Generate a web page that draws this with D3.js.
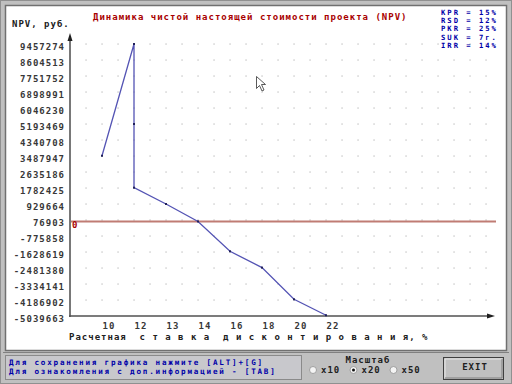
<!DOCTYPE html>
<html>
<head>
<meta charset="utf-8">
<script src="https://cdn.jsdelivr.net/npm/d3@7"></script>
<style>
  body { margin: 0; background: #c0c0c0; }
  svg text { font-family: "DejaVu Sans Mono", monospace; font-weight: bold; font-size: 9px; letter-spacing: 1px; }
  svg text.small { font-size: 7.2px; letter-spacing: 2px; }
  svg text.status { font-size: 7.6px; letter-spacing: 1.8px; }
</style>
</head>
<body>
<div id="chart"></div>
<script>
// rates on the x axis (categories)
const rates = ["10", "12", "13", "14", "16", "18", "20", "22"];
// the polyline: category index of each vertex and its NPV
const pathIdx = [0, 1, 1, 1, 2, 3, 4, 5, 6, 7];
const npv = [3500000, 9457274, 5193469, 1800000, 929664, 0, -1590000, -2460000, -4150000, -5000000];
// y tick labels as printed
const yTicks = [9457274, 8604513, 7751752, 6898991, 6046230, 5193469, 4340708, 3487947,
  2635186, 1782425, 929664, 76903, -775858, -1628619, -2481380, -3334141, -4186902, -5039663];
const params = ["KPR = 15%", "RSD = 12%", "PKR = 25%", "SUK = 7г.", "IRR = 14%"];

const W = 512, H = 384;
const svg = d3.select("#chart").append("svg").attr("width", W).attr("height", H);

// window chrome
svg.append("rect").attr("x", 0.5).attr("y", 0.5).attr("width", W - 1).attr("height", H - 1)
  .attr("fill", "#c0c0c0").attr("stroke", "#909090");
svg.append("rect").attr("x", 5.5).attr("y", 5.5).attr("width", 501).attr("height", 345)
  .attr("fill", "#fff").attr("stroke", "#707070").attr("stroke-width", 1.5);
svg.append("line").attr("x1", 3).attr("x2", 509).attr("y1", 352.5).attr("y2", 352.5).attr("stroke", "#808080");
svg.append("rect").attr("x", 5.5).attr("y", 355.5).attr("width", 296).attr("height", 24)
  .attr("fill", "#c8c8cc").attr("stroke", "#8a8a8a");

// scales
const x = d3.scaleLinear().domain([0, 1]).range([102, 134]);
const y = d3.scaleLinear().domain([d3.min(yTicks), d3.max(yTicks)]).range([316, 44]);

// dotted grid
const gx = d3.range(-0.5, 12.01, 0.5);
const gy = yTicks.slice(0, -1);
const grid = svg.append("g");
gy.forEach(v => {
  grid.selectAll(null).data(gx).enter().append("rect")
    .attr("x", d => x(d) - 0.6).attr("y", y(v) - 0.6)
    .attr("width", 1.3).attr("height", 1.3).attr("fill", "#c4c4c4");
});

// zero line
svg.append("line").attr("x1", 70).attr("x2", 496).attr("y1", y(0)).attr("y2", y(0))
  .attr("stroke", "#c07c74").attr("stroke-width", 2);
svg.append("text").attr("x", 72).attr("y", y(0) + 7).attr("fill", "#a80000").text("0");

// y axis
const yAxis = svg.append("g").attr("transform", "translate(70,0)")
  .call(d3.axisLeft(y).tickValues(yTicks).tickSize(0).tickPadding(5).tickFormat(d => d));
yAxis.select(".domain").remove();
yAxis.selectAll("text").attr("dy", null).attr("y", 5).attr("fill", "#383838")
  .attr("font-size", null).attr("font-family", null);
svg.append("line").attr("x1", 70).attr("x2", 70).attr("y1", 38).attr("y2", 317)
  .attr("stroke", "#787878").attr("stroke-width", 2);
svg.append("path").attr("d", "M70,33 L67.5,41 L72.5,41 Z").attr("fill", "#202020");

// x axis
const xAxis = svg.append("g").attr("transform", "translate(0,316)")
  .call(d3.axisBottom(x).tickValues(d3.range(rates.length)).tickSize(0).tickFormat(i => rates[i]));
xAxis.select(".domain").remove();
xAxis.selectAll("text").attr("dy", null).attr("y", 13).attr("text-anchor", "start")
  .attr("fill", "#383838").attr("font-size", null).attr("font-family", null);
svg.append("line").attr("x1", 69).attr("x2", 490).attr("y1", 316).attr("y2", 316)
  .attr("stroke", "#505050").attr("stroke-width", 1.5);
svg.append("path").attr("d", "M495,316 L487,313.5 L487,318.5 Z").attr("fill", "#202020");

// data line
const line = d3.line().x((d, i) => x(pathIdx[i])).y(d => y(d));
svg.append("path").datum(npv).attr("d", line)
  .attr("fill", "none").attr("stroke", "#5454b4").attr("stroke-width", 1.3);
svg.selectAll(".pt").data(npv).enter().append("rect").attr("class", "pt")
  .attr("x", (d, i) => x(pathIdx[i]) - 1).attr("y", d => y(d) - 1)
  .attr("width", 2).attr("height", 2).attr("fill", "#20205a");

// texts
svg.append("text").attr("x", 93).attr("y", 20).attr("fill", "#a80000")
  .text("Динамика чистой настоящей стоимости проекта (NPV)");
svg.append("text").attr("x", 12).attr("y", 26.5).attr("fill", "#202020").text("NPV, руб.");
svg.append("text").attr("x", 69).attr("y", 340).attr("fill", "#202020")
  .style("white-space", "pre")
  .text("Расчетная  с т а в к а  д и с к о н т и р о в а н и я, %");
svg.selectAll(".par").data(params).enter().append("text").attr("class", "par small")
  .attr("x", 441).attr("y", (d, i) => 14.5 + i * 8.4).attr("fill", "#0000a8").text(d => d);

// status panel
svg.append("text").attr("class", "status").attr("x", 9).attr("y", 364.5).attr("fill", "#0000a8")
  .text("Для сохранения графика нажмите [ALT]+[G]");
svg.append("text").attr("class", "status").attr("x", 9).attr("y", 373.5).attr("fill", "#0000a8")
  .text("Для ознакомления с доп.информацией - [TAB]");

svg.append("text").attr("x", 368).attr("y", 362.5).attr("text-anchor", "middle").attr("fill", "#202020").text("Масштаб");
const radios = [{ x: 313, t: "x10", on: false }, { x: 353.5, t: "x20", on: true }, { x: 393.5, t: "x50", on: false }];
radios.forEach(r => {
  svg.append("circle").attr("cx", r.x).attr("cy", 370).attr("r", 3.5)
    .attr("fill", "#f4f4f4").attr("stroke", "#909090").attr("stroke-width", 0.8);
  if (r.on) svg.append("circle").attr("cx", r.x).attr("cy", 370).attr("r", 1.5).attr("fill", "#101010");
  svg.append("text").attr("x", r.x + 8).attr("y", 373).attr("fill", "#202020").text(r.t);
});

// exit button
svg.append("rect").attr("x", 443.5).attr("y", 357.5).attr("width", 60).attr("height", 22)
  .attr("fill", "#c0c0c0").attr("stroke", "#404040");
svg.append("path").attr("d", "M445,378 L445,359 L502,359").attr("fill", "none").attr("stroke", "#e8e8e8");
svg.append("path").attr("d", "M445,378 L502,378 L502,359").attr("fill", "none").attr("stroke", "#808080");
svg.append("text").attr("x", 475).attr("y", 369.5).attr("text-anchor", "middle").attr("fill", "#202020").text("EXIT");

// mouse pointer
svg.append("path").attr("d", "M256.5,76.5 L256.5,88.5 L259.5,85.5 L262,91 L264,90 L261.5,84.5 L265.5,84.5 Z")
  .attr("fill", "#fff").attr("stroke", "#303030").attr("stroke-width", 0.8);
</script>
</body>
</html>
